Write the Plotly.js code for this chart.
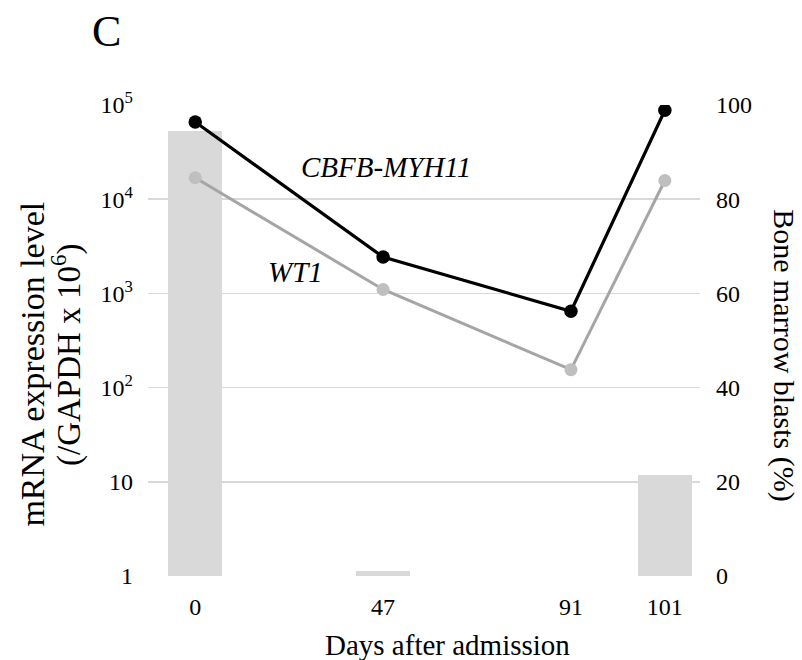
<!DOCTYPE html>
<html>
<head>
<meta charset="utf-8">
<script src="https://cdn.plot.ly/plotly-3.0.1.min.js"></script>
<style>html,body{margin:0;padding:0;background:#fff;}#chart{width:802px;height:660px;}</style>
</head>
<body>
<div id="chart"></div>
<script>
// Category slots on the x axis (blank slots keep the Excel-like spacing)
const xSlots = ["0", " ", "47", "  ", "91", "101"];
const days = ["0", "47", "91", "101"];
const cbfbMyh11 = [66000, 2430, 646, 88000];
const wt1 = [16900, 1100, 155, 15800];
const blasts = [94.4, 1.0, 0, 21.5];
const logTickVals = [1, 10, 100, 1000, 10000, 100000];
const logTickText = ["1", "10", "10<sup>2</sup>", "10<sup>3</sup>", "10<sup>4</sup>", "10<sup>5</sup>"];
const blastTicks = [0, 20, 40, 60, 80, 100];

const FONT = '"Liberation Serif", "Times New Roman", serif';

const traces = [
  {
    type: 'bar', x: days, y: blasts, xaxis: 'x', yaxis: 'y',
    width: 0.575, marker: {color: '#d9d9d9', line: {width: 0}},
    hoverinfo: 'skip', showlegend: false
  },
  {
    type: 'scatter', mode: 'lines+markers', x: days, y: wt1, xaxis: 'x', yaxis: 'y2',
    line: {color: '#a5a5a5', width: 3}, marker: {color: '#bfbfbf', size: 13},
    showlegend: false
  },
  {
    type: 'scatter', mode: 'lines+markers', x: days, y: cbfbMyh11, xaxis: 'x', yaxis: 'y2',
    line: {color: '#000000', width: 3.2}, marker: {color: '#000000', size: 13.5},
    showlegend: false
  }
];

const layout = {
  width: 802, height: 660,
  margin: {l: 148, r: 102, t: 105, b: 84, pad: 0},
  paper_bgcolor: '#ffffff', plot_bgcolor: '#ffffff',
  font: {family: FONT, size: 24, color: '#000000'},
  showlegend: false,
  bargap: 0,
  xaxis: {
    type: 'category', categoryorder: 'array', categoryarray: xSlots,
    range: [-0.503, 5.374], showgrid: false, zeroline: false,
    showline: false, ticks: '', ticklabelstandoff: 14,
    tickfont: {family: FONT, size: 24, color: '#000'}
  },
  yaxis: {
    side: 'right', range: [0, 100], tickvals: blastTicks,
    showgrid: true, gridcolor: '#d9d9d9', gridwidth: 1.5,
    zeroline: false, showline: false, ticks: '', ticklabelstandoff: 15,
    tickfont: {family: FONT, size: 24, color: '#000'}
  },
  yaxis2: {
    type: 'log', overlaying: 'y', side: 'left', range: [0, 5],
    tickvals: logTickVals, ticktext: logTickText,
    showgrid: false, zeroline: false, showline: false, ticks: '', ticklabelstandoff: 14,
    tickfont: {family: FONT, size: 24, color: '#000'}
  },
  annotations: [
    {text: 'C', xref: 'paper', yref: 'paper', x: -0.076, y: 1.156, showarrow: false,
     font: {family: FONT, size: 44, color: '#000'}, xanchor: 'center', yanchor: 'middle'},
    {text: 'mRNA expression level', xref: 'paper', yref: 'paper',
     x: -0.210, y: 0.449, showarrow: false, textangle: -90,
     font: {family: FONT, size: 34, color: '#000'}, xanchor: 'center', yanchor: 'middle'},
    {text: '(/GAPDH x 10<sup>6</sup>)', xref: 'paper', yref: 'paper',
     x: -0.148, y: 0.470, showarrow: false, textangle: -90,
     font: {family: FONT, size: 33, color: '#000'}, xanchor: 'center', yanchor: 'middle'},
    {text: 'Bone marrow blasts (%)', xref: 'paper', yref: 'paper',
     x: 1.152, y: 0.469, showarrow: false, textangle: 90,
     font: {family: FONT, size: 30, color: '#000'}, xanchor: 'center', yanchor: 'middle'},
    {text: 'Days after admission', xref: 'paper', yref: 'paper',
     x: 0.543, y: -0.147, showarrow: false,
     font: {family: FONT, size: 29, color: '#000'}, xanchor: 'center', yanchor: 'middle'},
    {text: '<i>CBFB-MYH11</i>', xref: 'paper', yref: 'paper',
     x: 0.431, y: 0.868, showarrow: false,
     font: {family: FONT, size: 29, color: '#000'}, xanchor: 'center', yanchor: 'middle'},
    {text: '<i>WT1</i>', xref: 'paper', yref: 'paper',
     x: 0.268, y: 0.645, showarrow: false,
     font: {family: FONT, size: 29, color: '#000'}, xanchor: 'center', yanchor: 'middle'}
  ]
};

Plotly.newPlot('chart', traces, layout, {staticPlot: true, displayModeBar: false});
</script>
</body>
</html>
